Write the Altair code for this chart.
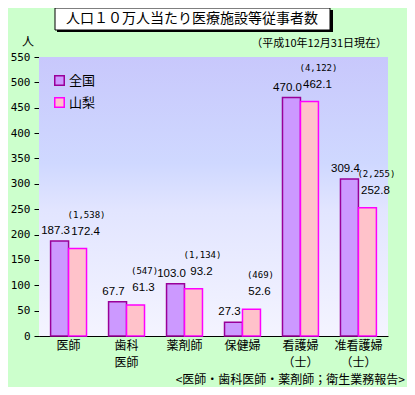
import altair as alt
import pandas as pd

categories = ["医師", "歯科\n医師", "薬剤師", "保健婦", "看護婦\n（士）", "准看護婦\n（士）"]
series = ["全国", "山梨"]
national = [187.3, 67.7, 103.0, 27.3, 470.0, 309.4]
yamanashi = [172.4, 61.3, 93.2, 52.6, 462.1, 252.8]
counts = ["(1,538)", "(547)", "(1,134)", "(469)", "(4,122)", "(2,255)"]
y_ticks = list(range(0, 551, 50))

rows = []
for c, n, y, k in zip(categories, national, yamanashi, counts):
    rows.append({"cat": c, "series": "全国", "value": n, "label": f"{n:.1f}", "count": ""})
    rows.append({"cat": c, "series": "山梨", "value": y, "label": f"{y:.1f}", "count": k})
df = pd.DataFrame(rows)

JP = "Noto Sans CJK JP"
W, H = 349, 279

xenc = alt.X("cat:N", sort=categories, title=None,
             scale=alt.Scale(paddingInner=0.38, paddingOuter=0.2),
             axis=alt.Axis(labelExpr="split(datum.label, '\\n')", labelAngle=0,
                           ticks=False, domainColor="black", labelColor="black",
                           labelFont=JP, labelFontSize=12, labelPadding=4,
                           labelLineHeight=17.5, labelBaseline="top"))
yenc = alt.Y("value:Q", title=None,
             scale=alt.Scale(domain=[0, 550], nice=False),
             axis=alt.Axis(values=y_ticks, grid=False, domainColor="black",
                           tickColor="black", tickSize=5, labelColor="black",
                           labelOverlap=False, labelFlush=False,
                           labelFont="DejaVu Sans Mono", labelFontSize=11, labelPadding=4))
xoff = alt.XOffset("series:N", sort=series, scale=alt.Scale(paddingInner=0, paddingOuter=0))

grad = alt.LinearGradient(gradient="linear", x1=0, x2=0, y1=0, y2=1, stops=[
    alt.GradientStop(color="#C8C8FC", offset=0),
    alt.GradientStop(color="#CFD8FF", offset=0.38),
    alt.GradientStop(color="#E2E5FF", offset=0.55),
    alt.GradientStop(color="#F4F4FF", offset=1)])

bg = alt.Chart(alt.Data(values=[{}])).mark_rect(color=grad).encode(
    x=alt.value(0), x2=alt.value(W), y=alt.value(0), y2=alt.value(H))

bars = alt.Chart(df).mark_bar(strokeWidth=1.5).encode(
    x=xenc, xOffset=xoff, y=yenc,
    color=alt.Color("series:N", sort=series,
                    scale=alt.Scale(domain=series, range=["#CC99FF", "#FFC2CA"]),
                    legend=alt.Legend(title=None, orient="none", legendX=14, legendY=17,
                                      symbolType="square", symbolSize=90, symbolStrokeWidth=1.5,
                                      labelFont=JP, labelFontSize=13, labelColor="black",
                                      rowPadding=5, labelOffset=3)),
    stroke=alt.Stroke("series:N", sort=series,
                      scale=alt.Scale(domain=series, range=["#990099", "#FF00FF"]),
                      legend=None),
)

lab_nat = alt.Chart(df).transform_filter(alt.datum.series == "全国").mark_text(
    font="Liberation Sans", fontSize=11.5, baseline="middle", dy=-10, dx=-4, color="black").encode(
    x=xenc, xOffset=xoff, y=yenc, text="label:N")
lab_yam = alt.Chart(df).transform_filter(alt.datum.series == "山梨").mark_text(
    font="Liberation Sans", fontSize=11.5, baseline="middle", dy=-17, dx=8, color="black").encode(
    x=xenc, xOffset=xoff, y=yenc, text="label:N")
cnt = alt.Chart(df).transform_filter(alt.datum.series == "山梨").mark_text(
    font="DejaVu Sans Mono", fontSize=9, baseline="middle", dy=-34, dx=9, color="black").encode(
    x=xenc, xOffset=xoff, y=yenc, text="count:N")

shadow = alt.Chart(alt.Data(values=[{}])).mark_rect(color="black").encode(
    x=alt.value(18), x2=alt.value(294), y=alt.value(-47), y2=alt.value(-25))
box = alt.Chart(alt.Data(values=[{}])).mark_rect(color="white", stroke="black", strokeWidth=1).encode(
    x=alt.value(16), x2=alt.value(291), y=alt.value(-49), y2=alt.value(-27))
title = alt.Chart(alt.Data(values=[{"t": "人口１０万人当たり医療施設等従事者数"}])).mark_text(
    font=JP, fontSize=14, color="black", baseline="middle", align="center").encode(
    x=alt.value(153), y=alt.value(-38), text="t:N")
unit = alt.Chart(alt.Data(values=[{"t": "人"}])).mark_text(
    font=JP, fontSize=12, color="black", baseline="middle", align="center").encode(
    x=alt.value(-11), y=alt.value(-15), text="t:N")
sub = alt.Chart(alt.Data(values=[{"t": "（平成10年12月31日現在）"}])).mark_text(
    font=JP, fontSize=11, color="black", baseline="middle", align="right").encode(
    x=alt.value(348), y=alt.value(-13), text="t:N")
foot = alt.Chart(alt.Data(values=[{"t": "<医師・歯科医師・薬剤師；衛生業務報告>"}])).mark_text(
    font=JP, fontSize=12, color="black", baseline="alphabetic", align="right").encode(
    x=alt.value(366), y=alt.value(327), text="t:N")

chart = alt.layer(bg, bars, lab_nat, lab_yam, cnt, shadow, box, title, unit, sub, foot).properties(
    width=W, height=H,
    autosize=alt.AutoSizeParams(type="none"),
    padding={"left": 31, "top": 49, "right": 19, "bottom": 51},
    background="#CCFFCC",
).configure_view(stroke=None)

chart.save("out.html", embed_options={"renderer": "svg", "actions": False})
